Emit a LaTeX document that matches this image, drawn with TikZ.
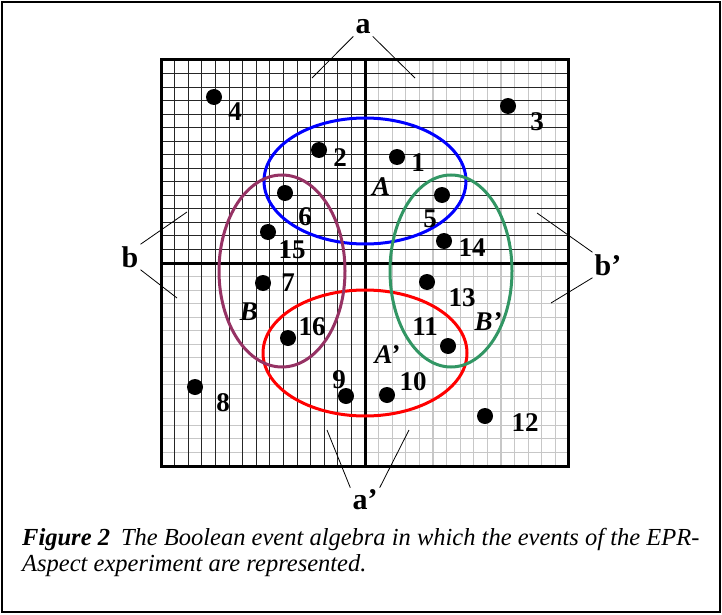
\documentclass[tikz,border=0pt]{standalone}
\usepackage{fontspec}
\setmainfont{Liberation Serif}
\usepackage{xcolor}
\usetikzlibrary{positioning}

\definecolor{evblue}{RGB}{0,0,255}
\definecolor{evred}{RGB}{255,0,0}
\definecolor{evpurple}{RGB}{150,50,100}
\definecolor{evgreen}{RGB}{50,150,100}

\tikzset{
  darkline/.style={black!85, line width=0.9},
  lightline/.style={black!22, line width=1.1},
  borderline/.style={black, line width=3},
  evline/.style={line width=3},
  dot/.style={circle, fill=black, inner sep=0pt, minimum size=16},
  num/.style={font=\bfseries\fontsize{27}{27}\selectfont, inner sep=1pt},
  evname/.style={font=\bfseries\itshape\fontsize{27}{27}\selectfont, inner sep=1pt},
  side/.style={font=\bfseries\fontsize{30}{30}\selectfont, inner sep=2pt},
  pointer/.style={black, line width=0.8},
  captext/.style={font=\itshape\fontsize{24.5}{26}\selectfont, anchor=base west, inner sep=0pt},
}

\begin{document}
\begin{tikzpicture}[x=1pt, y=-1pt]
    \useasboundingbox (0,0) rectangle (722,615);
    % 1. Outer frame
    \draw[line width=2] (2,2) rectangle (720,612);

    % 2. Hatching of the four quarters
    \foreach \i in {1,...,14} {
        \draw[lightline] ({365+\i*13.6},60) -- ({365+\i*13.6},466);
        \draw[lightline] (161,{263+\i*13.53}) -- (568,{263+\i*13.53});
    }
    \foreach \i in {1,...,14} {
        \draw[darkline] ({161+\i*13.6},60) -- ({161+\i*13.6},466);
        \draw[darkline] (161,{60+\i*13.53}) -- (568,{60+\i*13.53});
    }
    \draw[borderline] (161,60) rectangle (568,466);
    \draw[borderline] (365,60) -- (365,466);
    \draw[borderline] (161,263) -- (568,263);

    % 3. The four events
    \draw[evline, evblue]   (365,181) ellipse [x radius=101, y radius=63];
    \draw[evline, evred]    (365,353) ellipse [x radius=102, y radius=63];
    \draw[evline, evpurple] (282,271) ellipse [x radius=63, y radius=96];
    \draw[evline, evgreen]  (451,271) ellipse [x radius=61, y radius=96];
    \node[evname] (nA)  at (381,187) {A};
    \node[evname] (nB)  at (249,312) {B};
    \node[evname] (nAp) at (387,355) {A’};
    \node[evname] (nBp) at (488,322) {B’};

    % 4. Points with their numbers
    \foreach \n/\x/\y/\lx/\ly in {4/214/97/235/112, 3/508/106/537/122,
        2/319/150/340/158, 1/397/157/418/163, 6/285/193/305/217,
        5/442/195/430/219, 15/268/232/292/250, 14/444/241/472/248,
        7/263/283/288/283, 13/427/282/462/298, 16/288/338/312/327,
        11/448/346/425/327, 8/195/387/223/403, 9/346/396/339/380,
        10/387/395/413/382, 12/485/416/525/423} {
        \node[dot] (p\n) at (\x,\y) {};
        \node[num] (n\n) at (\lx,\ly) {\n};
    }

    % 5. Labels of the halves
    \node[side] (la)  at (363,27)  {a};
    \node[side] (lap) at (365,500) {a’};
    \node[side] (lb)  at (130,257) {b};
    \node[side] (lbp) at (608,265) {b’};
    \coordinate (a1) at (312,78);
    \coordinate (a2) at (415,78);
    \coordinate (ap1) at (327,430);
    \coordinate (ap2) at (409,430);
    \coordinate (b1) at (187,212);
    \coordinate (b2) at (177,298);
    \coordinate (bp1) at (537,213);
    \coordinate (bp2) at (551,303);
    \draw[pointer] (la.south west) -- (a1);
    \draw[pointer] (la.south east) -- (a2);
    \draw[pointer] (lap.north west) -- (ap1);
    \draw[pointer] (lap.north east) -- (ap2);
    \draw[pointer] (lb.north east) -- (b1);
    \draw[pointer] (lb.south east) -- (b2);
    \draw[pointer] (lbp.north west) -- (bp1);
    \draw[pointer] (lbp.south west) -- (bp2);

    % 6. Caption
    \node[captext] (cap1) at (22,545) {\textbf{Figure 2}\hspace{0.45em}The Boolean event algebra in which the events of the EPR-};
    \node[captext] (cap2) at (22,571) {Aspect experiment are represented.};
\end{tikzpicture}
\end{document}
